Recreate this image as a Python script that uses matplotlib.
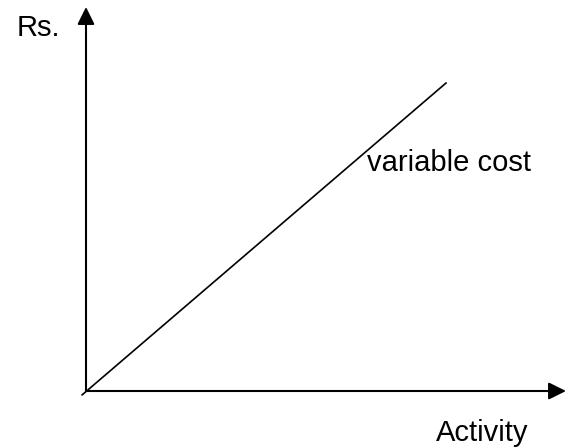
import matplotlib.pyplot as plt

# variable cost line (activity, Rs.)
activity = [-0.08, 7.5]
cost = [-0.1, 8.02]

x_label = "Activity"
y_label = "Rs."
line_label = "variable cost"

plt.rcParams['font.family'] = ['Liberation Sans', 'DejaVu Sans']

fig = plt.figure(figsize=(5.73, 4.47), dpi=100)
ax = fig.add_axes([86 / 573, 56 / 447, 480 / 573, 384 / 447])
ax.set_xlim(0, 10)
ax.set_ylim(0, 10)
ax.axis('off')

arrow = dict(arrowstyle='-|>,head_length=1.05,head_width=0.52', mutation_scale=10,
             color='black', lw=1.5, shrinkA=0, shrinkB=0)
ax.annotate('', xy=(10, 0), xytext=(0, 0), arrowprops=arrow, annotation_clip=False)
ax.annotate('', xy=(0, 10), xytext=(0, 0), arrowprops=arrow, annotation_clip=False)

ax.plot(activity, cost, color='black', lw=1.2, clip_on=False)

ax.text(-1.44, 9.25, y_label, fontsize=21, va='baseline', ha='left', clip_on=False)
ax.text(5.85, 5.73, line_label, fontsize=21, va='baseline', ha='left')
ax.text(7.29, -1.30, x_label, fontsize=21, va='baseline', ha='left', clip_on=False)

fig.savefig('out.png', dpi=100)
